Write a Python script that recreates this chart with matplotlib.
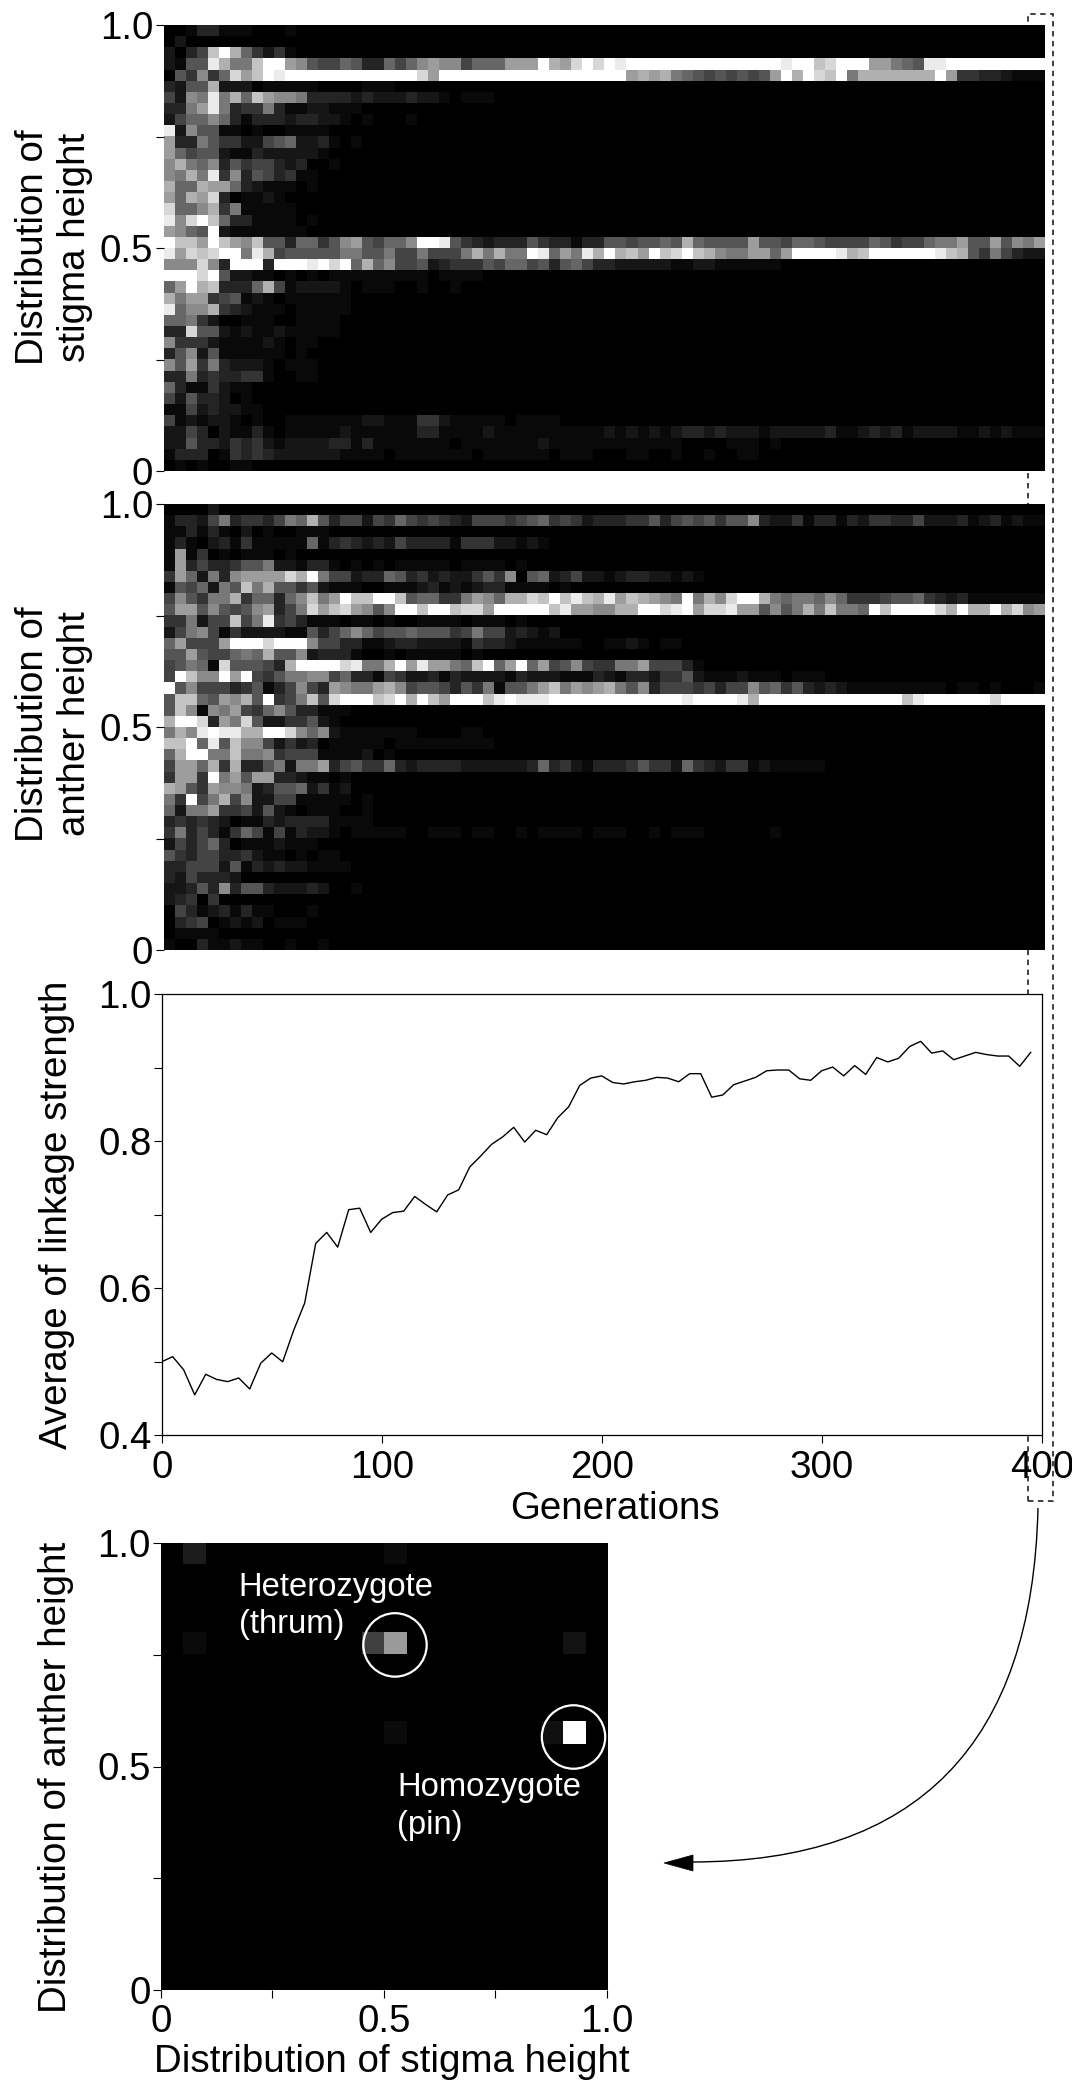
import numpy as np
import matplotlib
matplotlib.use("Agg")
import matplotlib.pyplot as plt
from matplotlib.patches import Rectangle, PathPatch, Polygon, Ellipse
from matplotlib.path import Path

plt.rcParams['font.family'] = ['Liberation Sans', 'DejaVu Sans']

W, H = 1072, 2084

# grey level per cell, one hex digit (0 black, f white), top row first, rest of row is black
stigma_rows = [
    "001331110001",
    "02",
    "2035cfb74241",
    "2166eb88cf" "fa96557633" "7579a99577" "7aaafbadfd" "feffffffff" "ffffffeffc" "dfffaa876e" "efffffffff",
    "064947dacf" "efffffffff" "fffdafffff" "ffffffffff" "ffabab8765" "65656afbfd" "cf8bbbbbbb" "fa44332111",
    "3266b22201" "1111000011" "1",
    "5298e8b7ca" "9983333232" "2232210111",
    "338ae83448" "31122111",
    "2577973133" "3233221010" "001",
    "e296611010" "01111",
    "a338644225" "67223101",
    "a756621132" "22221",
    "9b87936455" "323001",
    "98b8e49365" "3411",
    "b77baa7321" "1101",
    "a7bad30112" "1",
    "d779b48111" "11",
    "e9dfc73311" "1101",
    "a976f21111" "111",
    "fccafca9c6" "6377469a65" "779ffe6432" "3336433133" "6656676b76" "666a665776" "5555764557" "88a66a698a",
    "eadcdff8eb" "5666668866" "85585558b8" "b88fe7a8eb" "fbcafcdfcb" "988aa7afff" "febcffffff" "ecb6485322",
    "999d93fff3" "fffefdf7b7" "9556234446" "5775636753" "3222221122" "111111",
    "fffdf62211" "0101011111" "111101111",
    "7afbc3337b" "5122221011" "1001001",
    "b8aa456121" "0111111",
    "e799b43211" "1011111",
    "7784200111" "001111",
    "33d6621211" "211111",
    "9444211112" "1011",
    "3692611111" "101",
    "96a4832221" "0111",
    "3383433441" "0011",
    "73114211",
    "52633201",
    "115232211",
    "5121221010" "0111111122" "1114421111" "101111",
    "2253021131" "0111112111" "1113311112" "1111111111" "2121212332" "3222122222" "3112323122" "2211212111",
    "2263324342" "1222233131" "1111110111" "1111211111" "1111111000" "011101",
    "1333014343" "2222221111" "0111111101" "1111101110" "0011001001" "0011",
    "01010011",
]

anther_rows = [
    "00002",
    "1332583443" "587b635525" "4754543255" "5456745423" "3344635656" "4669322413" "3132443352" "2231231211",
    "1131310201" "00111",
    "1310231411" "1117134323" "2533331444" "22121",
    "1a14010111" "01",
    "1a35334668" "2213310101" "0111110111" "101",
    "4a72839aaa" "adbf855233" "7634232246" "4906723522" "1233221210",
    "1657286c8b" "6646211100" "1112312123" "3111101",
    "596488b477" "379c8afccf" "fc677448a9" "7bbdcfcecb" "eacba98f8b" "9dffb87887" "9744456674" "3231111111",
    "6aa696569a" "358dacda96" "9ffcffcdda" "fffffceaa9" "9bbffdefad" "deaa6968b8" "c887fcffff" "dbfbbfbd9a",
    "448255c58e" "4531110110" "1001111011" "101",
    "2589514222" "2116357975" "6676664585" "523212",
    "7a555afffd" "fff9553311" "2332222143" "3211111100" "11210110",
    "66a655787b" "6692333100" "101111101",
    "56871d6665" "3bffffde88" "bfaeaa87cf" "7af7a56954" "488a55531",
    "5fc99faf54" "6889957331" "5422313222" "2132221113" "2133244621" "1121110111",
    "f695553461" "35953a988a" "b956653648" "1668ac8a9a" "b869355545" "3559674632" "3211111111" "1011010001",
    "6cc76a9b6f" "458c6dfffc" "dfbfcafffc" "efeeefffff" "fffffffeff" "ffebffffff" "fffffffcef" "fffffdffff",
    "6c9198a547" "9633111",
    "bffd3a8d62" "244621",
    "8b9efeebbf" "fd97921111" "111000011",
    "ccf7e6c995" "2423011111" "0111111111",
    "7bff88c889" "4555111120" "1",
    "5aa7b4b336" "8288a35644" "7323333222" "2223734213" "3346442743" "2441211111",
    "4aa4f8a6aa" "3321101",
    "ba64a99823" "6672412",
    "84f58b5922" "551111101",
    "7288a44526" "210111001",
    "3434320113" "233331111",
    "4835314751" "5132210111" "1100111011" "0010111101" "1100101110" "000001",
    "2535730111" "2111",
    "6435533421" "101011",
    "3355526132" "3221111",
    "3253332",
    "2236393663" "22232001",
    "23404",
    "0531231311" "0001",
    "0345012120" "111",
    "01111",
    "1003112110" "01001",
]

generations = np.arange(0, 400, 5)
linkage = [
    .500, .507, .489, .455, .483, .476, .473, .478, .463, .498,
    .512, .500, .543, .580, .661, .676, .656, .707, .709, .676,
    .694, .703, .705, .725, .714, .704, .727, .734, .765, .780,
    .796, .806, .819, .799, .815, .809, .832, .847, .876, .886,
    .889, .880, .878, .881, .883, .887, .886, .881, .892, .892,
    .860, .863, .877, .882, .887, .896, .897, .897, .885, .883,
    .896, .901, .889, .903, .891, .914, .908, .913, .929, .936,
    .920, .923, .911, .916, .921, .918, .916, .916, .902, .921,
]

# last generation, 20x20 cells: (row from top, column, grey level 0-255)
last_gen_cells = [
    (0, 1, 0x1c), (0, 10, 0x0a),
    (4, 1, 0x0a), (4, 9, 0x40), (4, 10, 0x9a), (4, 18, 0x12),
    (8, 10, 0x0a), (8, 17, 0x10), (8, 18, 0xff),
]
circle_centres = [(0.525, 0.772), (0.925, 0.566)]

tick_size = 27.7


def rows_to_image(rows):
    # the dim digits read a bit high, so bend the scale down at the low end
    return np.array([[(int(ch, 16) / 15) ** 1.2 for ch in r.ljust(80, "0")[:80]] for r in rows])


def axes_px(fig, left, top, right, bottom):
    return fig.add_axes([left / W, 1 - bottom / H, (right - left) / W, (bottom - top) / H])


def style_y(ax, major, minor, labels):
    ax.set_yticks(major)
    ax.set_yticklabels(labels)
    ax.set_yticks(minor, minor=True)
    ax.tick_params(axis='both', which='both', direction='out', length=5.8, width=0.8,
                   labelsize=tick_size, pad=1.5)
    ax.tick_params(axis='x', which='both', pad=4.5)


def label_px(fig, x, y, text, rotation=0, spacing=1.0):
    fig.text(x / W, 1 - y / H, text, fontsize=tick_size, rotation=rotation, ha='center',
             va='center', linespacing=spacing, multialignment='center')


fig = plt.figure(figsize=(W / 100, H / 100), dpi=100, facecolor='white')

# dashed box marking the last generation, sits behind the panels
fig.add_artist(Rectangle((1028 / W, 1 - 1501 / H), 25 / W, 1487 / H, transform=fig.transFigure,
                         fill=False, ec='#333333', lw=1.3, ls=(0, (3, 2.5)), zorder=-1))

# top two panels
for rows, top, bottom in [(stigma_rows, 25, 471), (anther_rows, 504, 950)]:
    ax = axes_px(fig, 163.5, top, 1044, bottom)
    ax.imshow(rows_to_image(rows), cmap='gray', vmin=0, vmax=1, aspect='auto',
              extent=[0, 400, 0, 1], interpolation='nearest')
    style_y(ax, [0, 0.5, 1], [0.25, 0.75], ['0', '0.5', '1.0'])
    ax.set_xticks([])
    for s in ax.spines.values():
        s.set_visible(False)

label_px(fig, 54, 247, "Distribution of\nstigma height", 90, 1.2)
label_px(fig, 54, 724, "Distribution of\nanther height", 90, 1.2)

# linkage strength
ax = axes_px(fig, 161.7, 994.3, 1041.7, 1435.3)
ax.plot(generations, linkage, color='black', lw=1.0)
ax.set_xlim(0, 400)
ax.set_ylim(0.4, 1.0)
style_y(ax, [0.4, 0.6, 0.8, 1.0], [0.5, 0.7, 0.9], ['0.4', '0.6', '0.8', '1.0'])
ax.set_xticks([0, 100, 200, 300, 400])
for s in ax.spines.values():
    s.set_linewidth(0.9)
label_px(fig, 57, 1215, "Average of linkage strength", 90)
label_px(fig, 615, 1509, "Generations")

# last generation scatter of genotypes
grid = np.zeros((20, 20))
for r, c, g in last_gen_cells:
    grid[r, c] = g / 255
ax = axes_px(fig, 160.7, 1543, 607, 1990)
ax.imshow(grid, cmap='gray', vmin=0, vmax=1, aspect='auto', extent=[0, 1, 0, 1],
          interpolation='nearest')
style_y(ax, [0, 0.5, 1], [0.25, 0.75], ['0', '0.5', '1.0'])
ax.set_xticks([0, 0.5, 1])
ax.set_xticklabels(['0', '0.5', '1.0'])
ax.set_xticks([0.25, 0.75], minor=True)
for s in ax.spines.values():
    s.set_visible(False)
for cx, cy in circle_centres:
    ax.add_patch(Ellipse((cx, cy), 0.142, 0.142, fill=False, ec='white', lw=1.6))
ax.text(0.175, 0.859, "Heterozygote\n(thrum)", color='white', fontsize=23.6, va='center',
        linespacing=1.28)
ax.text(0.53, 0.41, "Homozygote\n(pin)", color='white', fontsize=23.6, va='center',
        linespacing=1.28)
label_px(fig, 56, 1777, "Distribution of anther height", 90)
label_px(fig, 392, 2062, "Distribution of stigma height")


# curved arrow down to the last panel
def fp(x, y):
    return (x / W, 1 - y / H)


curve = Path([fp(1038, 1508), fp(1030, 1862), fp(692, 1862)], [Path.MOVETO, Path.CURVE3, Path.CURVE3])
fig.add_artist(PathPatch(curve, transform=fig.transFigure, fill=False, ec='black', lw=1.0))
fig.add_artist(Polygon([fp(664, 1863), fp(693, 1855), fp(693, 1871)], closed=True,
                       transform=fig.transFigure, fc='black', ec='black', lw=0.5))

fig.savefig('out.png', dpi=100, facecolor='white')
